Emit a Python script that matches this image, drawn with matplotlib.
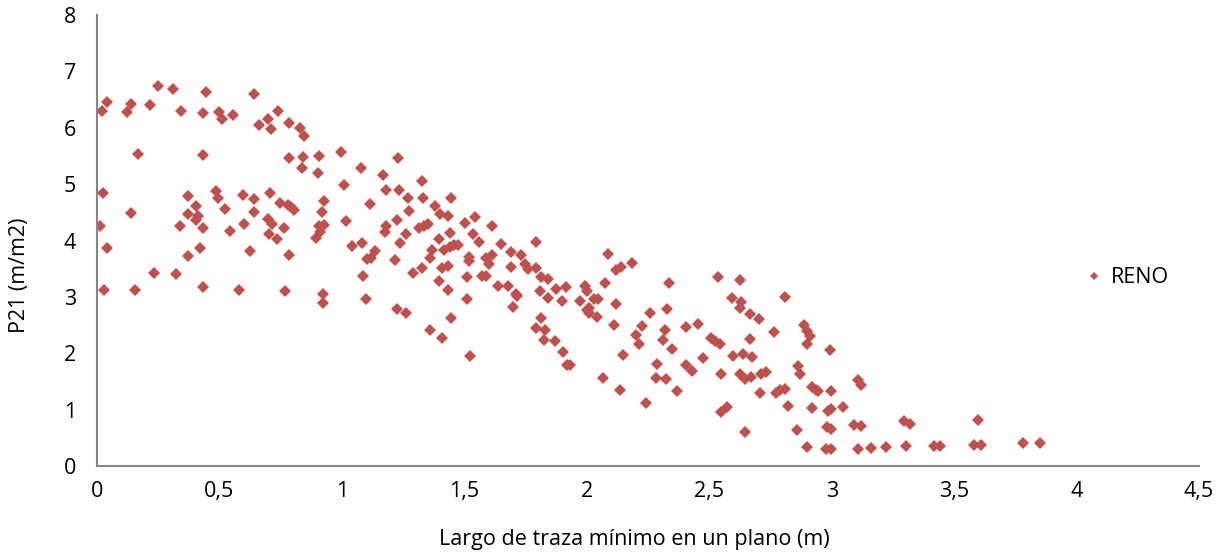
import matplotlib
matplotlib.use("Agg")
import matplotlib.pyplot as plt
from matplotlib.ticker import FuncFormatter

# largo de traza minimo (m) / P21 (m/m2)
reno_x = [
    0.248, 0.309, 0.445, 0.641, 0.039, 0.137, 0.216, 0.022, 0.122, 0.341,
    0.433, 0.499, 0.511, 0.555, 0.737, 0.698, 0.661, 0.711, 0.782, 0.830,
    0.846, 0.169, 0.434, 0.784, 0.843, 0.907, 0.998, 0.839, 0.902, 0.026,
    1.007, 0.373, 0.486, 0.494, 0.596, 0.641, 0.706, 0.747, 0.781, 0.794,
    0.805, 0.927, 0.406, 0.524, 0.140, 0.370, 0.412, 0.406, 0.642, 0.920,
    0.700, 0.713, 0.014, 0.340, 0.431, 0.601, 0.762, 1.015, 0.541, 0.702,
    0.733, 0.907, 0.928, 0.910, 0.894, 0.039, 0.373, 0.422, 0.624, 0.782,
    0.029, 0.155, 0.231, 0.321, 0.434, 0.580, 0.767, 0.924, 0.924,
    1.231, 1.076, 1.167, 1.329, 1.182, 1.235, 1.269, 1.332, 1.445, 1.113,
    1.382, 1.275, 1.401, 1.435, 1.545, 1.223, 1.502, 1.613, 1.178, 1.174,
    1.316, 1.335, 1.352, 1.261, 1.443, 1.537, 1.397, 1.560, 1.792, 1.041,
    1.082, 1.238, 1.649, 1.136, 1.366, 1.416, 1.443, 1.457, 1.475, 1.692,
    1.733, 1.103, 1.120, 1.216, 1.359, 1.520, 1.520, 1.590, 1.613, 1.601,
    1.747, 1.792, 1.760, 1.289, 1.328, 1.408, 1.435, 1.690, 1.087, 1.509,
    1.570, 1.590, 1.814, 1.842, 1.397, 1.638, 1.679, 1.876, 1.917, 1.993,
    1.434, 1.808, 1.710, 1.716, 1.840, 1.899, 1.974, 1.098, 1.511, 1.699,
    1.999, 1.223, 1.261, 1.445, 1.815, 1.792, 1.829, 1.359, 1.408, 1.826,
    1.871, 1.901, 1.524, 1.921, 1.931,
    2.087, 2.118, 2.141, 2.185, 2.000, 2.073, 2.030, 2.046, 2.118, 2.007,
    2.010, 2.042, 2.260, 2.327, 2.337, 2.535, 2.624, 2.592, 2.629, 2.624,
    2.668, 2.703, 2.808, 2.112, 2.226, 2.200, 2.214, 2.321, 2.313, 2.347,
    2.404, 2.456, 2.509, 2.525, 2.543, 2.668, 2.763, 2.887, 2.899, 2.913,
    2.901, 2.148, 2.287, 2.473, 2.597, 2.637, 2.675, 2.407, 2.431, 2.067,
    2.282, 2.325, 2.546, 2.627, 2.645, 2.672, 2.713, 2.733, 2.863, 2.872,
    2.137, 2.369, 2.706, 2.774, 2.790, 2.809, 2.921, 2.937,
    2.241, 2.547, 2.574, 2.645, 2.822, 2.860, 2.901, 2.921,
    2.995, 3.107, 3.118, 2.944, 2.996, 2.985, 2.998, 3.046, 2.981, 2.998,
    3.090, 3.121, 3.295, 3.321, 3.597, 2.978, 2.998, 3.107, 3.159, 3.220,
    3.305, 3.416, 3.443, 3.580, 3.611, 3.781, 3.849,
]
reno_y = [
    6.74, 6.68, 6.64, 6.60, 6.46, 6.42, 6.41, 6.29, 6.28, 6.30,
    6.27, 6.28, 6.16, 6.22, 6.30, 6.15, 6.05, 5.97, 6.08, 5.99,
    5.86, 5.53, 5.51, 5.46, 5.48, 5.50, 5.57, 5.29, 5.20, 4.85,
    4.99, 4.79, 4.88, 4.75, 4.80, 4.73, 4.85, 4.67, 4.63, 4.60,
    4.54, 4.70, 4.61, 4.56, 4.48, 4.47, 4.43, 4.37, 4.50, 4.50,
    4.39, 4.30, 4.26, 4.26, 4.22, 4.29, 4.22, 4.35, 4.17, 4.12,
    4.03, 4.26, 4.27, 4.15, 4.05, 3.86, 3.73, 3.86, 3.81, 3.74,
    3.12, 3.12, 3.42, 3.40, 3.17, 3.12, 3.10, 3.06, 2.90,
    5.46, 5.28, 5.16, 5.05, 4.89, 4.89, 4.76, 4.75, 4.75, 4.64,
    4.62, 4.52, 4.47, 4.44, 4.42, 4.36, 4.31, 4.25, 4.25, 4.15,
    4.23, 4.26, 4.30, 4.11, 4.14, 4.11, 4.03, 3.98, 3.97, 3.91,
    3.95, 3.95, 3.93, 3.82, 3.83, 3.83, 3.89, 3.92, 3.92, 3.80,
    3.74, 3.68, 3.69, 3.65, 3.69, 3.71, 3.63, 3.69, 3.75, 3.59,
    3.58, 3.52, 3.49, 3.43, 3.52, 3.51, 3.55, 3.53, 3.37, 3.35,
    3.37, 3.37, 3.36, 3.31, 3.28, 3.19, 3.20, 3.14, 3.17, 3.19,
    3.13, 3.10, 3.06, 3.01, 2.98, 2.93, 2.92, 2.96, 2.97, 2.82,
    2.77, 2.78, 2.72, 2.63, 2.62, 2.44, 2.42, 2.42, 2.27, 2.23,
    2.22, 2.02, 1.96, 1.80, 1.80,
    3.77, 3.48, 3.53, 3.61, 3.10, 3.24, 2.96, 2.96, 2.88, 2.80,
    2.71, 2.65, 2.72, 2.78, 3.24, 3.36, 3.30, 2.98, 2.91, 2.80,
    2.69, 2.61, 3.00, 2.50, 2.48, 2.32, 2.16, 2.42, 2.23, 2.07,
    2.47, 2.52, 2.27, 2.22, 2.16, 2.25, 2.38, 2.50, 2.39, 2.30,
    2.16, 1.97, 1.81, 1.91, 1.96, 1.99, 1.93, 1.79, 1.68, 1.57,
    1.57, 1.55, 1.64, 1.64, 1.54, 1.58, 1.64, 1.67, 1.77, 1.64,
    1.35, 1.33, 1.29, 1.30, 1.34, 1.37, 1.41, 1.35,
    1.11, 0.96, 1.05, 0.60, 1.07, 0.64, 0.34, 1.03,
    2.06, 1.52, 1.44, 1.33, 1.33, 0.98, 1.01, 1.05, 0.70, 0.66,
    0.73, 0.71, 0.79, 0.74, 0.82, 0.31, 0.31, 0.31, 0.32, 0.33,
    0.35, 0.36, 0.36, 0.38, 0.38, 0.40, 0.41,
]

x_ticks = [0, 0.5, 1, 1.5, 2, 2.5, 3, 3.5, 4, 4.5]
y_ticks = [0, 1, 2, 3, 4, 5, 6, 7, 8]

plt.rcParams['font.family'] = ['Open Sans', 'DejaVu Sans']
fs = 15.5

fig = plt.figure(figsize=(12.22, 5.54), dpi=100)
ax = fig.add_axes([0.0794, 0.1588, 0.9018, 0.814])

ax.plot(reno_x, reno_y, linestyle='none', marker='D', markersize=5.7,
        color='#C0504D', markeredgewidth=0, label='RENO')

ax.set_xlim(x_ticks[0], x_ticks[-1])
ax.set_ylim(y_ticks[0], y_ticks[-1])
ax.set_xticks(x_ticks)
ax.set_yticks(y_ticks)


def coma(v, pos):
    return ('%g' % v).replace('.', ',')


ax.xaxis.set_major_formatter(FuncFormatter(coma))
ax.yaxis.set_major_formatter(FuncFormatter(coma))
ax.tick_params(axis='both', length=0, labelsize=fs, colors='black')
ax.tick_params(axis='y', pad=15)
ax.tick_params(axis='x', pad=11)

for side in ['top', 'right']:
    ax.spines[side].set_visible(False)
for side in ['left', 'bottom']:
    ax.spines[side].set_color('#868686')
    ax.spines[side].set_linewidth(1.5)

ax.set_xlabel('Largo de traza mínimo en un plano (m)', fontsize=fs, va='center')
ax.set_ylabel('P21 (m/m2)', fontsize=fs, va='center')
ax.xaxis.set_label_coords(0.488, -0.164)
ax.yaxis.set_label_coords(-0.070, 0.423)

ax.legend(loc='center left', bbox_to_anchor=(0.887, 0.417), frameon=False,
          fontsize=fs, handlelength=1.0, handletextpad=0.3, markerscale=0.8,
          borderaxespad=0)

fig.savefig('out.png', dpi=100, facecolor='white')
